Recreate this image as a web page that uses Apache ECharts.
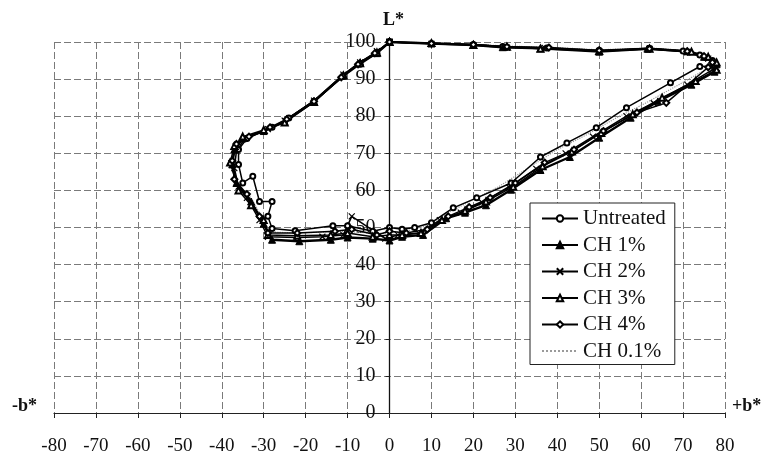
<!DOCTYPE html>
<html>
<head>
<meta charset="utf-8">
<script src="https://cdn.jsdelivr.net/npm/echarts@6/dist/echarts.min.js"></script>
<style>html,body{margin:0;padding:0;background:#fff}#c{width:766px;height:458px}</style>
</head>
<body>
<div id="c"></div>
<script>
// b* (x) ticks and L* (y) ticks
const xTicks = [-80,-70,-60,-50,-40,-30,-20,-10,0,10,20,30,40,50,60,70,80];
const yTicks = [0,10,20,30,40,50,60,70,80,90,100];
const seriesNames = ['Untreated','CH 1%','CH 2%','CH 3%','CH 4%','CH 0.1%'];

// [b*, L*] pairs, in drawing order
const untreated = [[0,100],[10,99.6],[20,99.3],[27,98.8],[37.5,98.4],[50,97.8],[62,98.3],[70,97.6],[74,96.5],[77,95],[77.5,93.5],[74,93.4],[67,89],[56.5,82.3],[49.3,76.9],[42.3,72.8],[36,69],[29,62],[20.8,58],[15.2,55.3],[10,51.3],[6,50],[3,49.5],[0,50],[-4,49],[-10,50.5],[-13.5,50.5],[-22.5,49.1],[-28,49.7],[-29,53],[-28,57],[-31,57],[-32.6,63.8],[-35,62],[-36,67],[-36,71],[-34,74],[-28,77],[-24,79.5],[-18,84],[-11,90.7],[-7,94],[-3,97],[0,100]];
const ch1 = [[0,100],[10,99.6],[20,99.2],[27,98.6],[36,98.3],[50,97.4],[61.5,98.2],[71,97.5],[75,96],[78,94],[77.5,92],[72,88.5],[64,84],[57.5,79.6],[50,74.2],[43,69],[36,65.5],[29,60.2],[23,56],[18,54],[13.5,52.5],[8,48],[3,47.5],[0,46.5],[-4,47],[-10,47.3],[-14,46.7],[-21.5,46.3],[-28,46.7],[-30,51],[-33,57],[-36.5,62],[-37.5,67],[-37,71],[-35,74],[-30,76],[-25,78.5],[-18,84],[-11,91],[-7,94.5],[-3,97],[0,100]];
const ch2 = [[0,100],[10,99.5],[20,99.1],[28,98.5],[37,98.4],[50,97.5],[62,98.1],[71,97.3],[76,95.5],[78,93],[77,92.5],[71,88.5],[63,83.5],[56.5,80],[48.5,74.5],[42,70],[35,65.8],[28.5,60.8],[22,56.8],[17,54],[12,52],[7,48.5],[2,48],[-1,47],[-9,53],[-11,48],[-16,47.5],[-22,47.3],[-29,47.5],[-31,52],[-34,58],[-36,61],[-37,66],[-36.5,70.5],[-34.5,74],[-29,76.5],[-25,78.8],[-18,84.2],[-11,91.2],[-7,94.5],[-3,97.5],[0,100]];
const ch3 = [[0,100],[10,99.7],[20,99.2],[28,98.7],[36,98.2],[50,97.6],[62,98.2],[72,97.4],[76,96],[78,94.5],[78,92.5],[73,89.5],[65,85],[58,80.5],[50.5,75.5],[43.5,70.5],[36.5,66.5],[29.5,61],[23,57],[18,54.5],[12.5,52],[7.5,48.5],[3,48],[0,48],[-4,47.5],[-10,48.5],[-14,48],[-22,47.8],[-29,48],[-30,52],[-33,56],[-36,60],[-38,67.5],[-37,72],[-35,74.5],[-30,76.3],[-25,78.3],[-18,83.8],[-11,91],[-7,94.3],[-3,97.2],[0,100]];
const ch4 = [[0,100],[10,99.6],[20,99.3],[28,98.7],[38,98.5],[50,97.7],[62,98.2],[71,97.5],[75,96.2],[77,94.5],[76,93.2],[66,83.6],[59,81],[51,76],[44,71],[37,67.5],[30,62],[24,58],[19,55.5],[14,53],[9,49.5],[4,48.5],[0,49],[-3,48],[-9,49.5],[-13,49],[-22,48.5],[-29,48.5],[-31,53],[-34,59],[-37,63],[-37.5,68],[-36.5,72.5],[-33.5,74.5],[-28.5,77],[-24.5,79.2],[-18,84],[-11.5,90.5],[-7.5,94],[-3.5,97],[0,100]];
const ch01 = [[0,100],[10,99.8],[20,99.4],[28,98.9],[38,98.6],[50,97.9],[62,98.4],[71,97.7],[75,96.5],[77.5,94.5],[76,93],[69,88.5],[61,83.5],[54,79.5],[47,75],[40,71],[33,66],[26,61],[20,57.5],[14,54],[9,50.5],[4,49],[0,48.5],[-5,48.5],[-10,49],[-15,48.8],[-22,48.5],[-28.5,48.8],[-30.5,53],[-33,58],[-36,61],[-37,66],[-36.5,71],[-34,74],[-29,76.5],[-25,79],[-18,84],[-11,91],[-7,94.3],[-3,97.2],[0,100]];

const FONT = 'Liberation Serif';
const crossPath = 'path://M0,0L10,10M10,0L0,10';

function mkSeries(name, data, opt) {
  return Object.assign({
    name: name,
    type: 'line',
    data: data,
    symbolSize: 5,
    showSymbol: true,
    itemStyle: {color: '#000', borderColor: '#000', borderWidth: 1},
    lineStyle: {color: '#000', width: 1.5},
    z: 3
  }, opt);
}

const ch1Data = ch1.map((p, i) => i === 0 ? {value: p, symbol: 'rect', symbolSize: 6} : p);

const GRID_LEFT = 54, GRID_W = 671;

const chart = echarts.init(document.getElementById('c'), null, {renderer: 'canvas'});
chart.setOption({
  animation: false,
  backgroundColor: '#fff',
  textStyle: {fontFamily: FONT},
  grid: {left: GRID_LEFT, width: GRID_W, top: 42, bottom: 45, containLabel: false},
  xAxis: {
    type: 'value', min: -80, max: 80, interval: 10,
    axisLine: {show: true, onZero: false, lineStyle: {color: '#222', width: 1.2}},
    axisTick: {show: true, length: 5, lineStyle: {color: '#222'}},
    axisLabel: {color: '#111', fontFamily: FONT, fontSize: 19, margin: 24,
      formatter: v => xTicks.includes(v) ? String(v) : ''},
    splitLine: {show: true, lineStyle: {color: '#7a7a7a', width: 1, type: [7, 3]}}
  },
  yAxis: {
    type: 'value', min: 0, max: 100, interval: 10,
    position: 'left',
    offset: -(GRID_W / 2),
    axisLine: {show: true, onZero: false, lineStyle: {color: '#111', width: 1.3}},
    axisTick: {show: true, length: 4, lineStyle: {color: '#222'}},
    axisLabel: {color: '#111', fontFamily: FONT, fontSize: 20, margin: 14,
      formatter: v => yTicks.includes(v) ? String(v) : ''},
    splitLine: {show: true, lineStyle: {color: '#7a7a7a', width: 1, type: [7, 3]}}
  },
  legend: {
    orient: 'vertical',
    left: 530, top: 203,
    data: seriesNames.map(n => n === 'CH 0.1%' ? {name: n, itemStyle: {opacity: 0}} : n),
    backgroundColor: '#fff',
    borderColor: '#222', borderWidth: 1,
    padding: [5, 9, 3, 11],
    itemWidth: 36, itemHeight: 8, itemGap: 5.5,
    textStyle: {fontFamily: FONT, fontSize: 21, color: '#111', lineHeight: 20},
    z: 10
  },
  graphic: [
    {type: 'text', left: 383, top: 11, style: {text: 'L*', font: 'bold 18px "Liberation Serif"', fill: '#111'}},
    {type: 'text', left: 12, top: 397, style: {text: '-b*', font: 'bold 18px "Liberation Serif"', fill: '#111'}},
    {type: 'text', left: 732, top: 397, style: {text: '+b*', font: 'bold 18px "Liberation Serif"', fill: '#111'}}
  ],
  series: [
    mkSeries('CH 0.1%', ch01, {symbol: 'none', lineStyle: {color: '#9a9a9a', width: 1.2, type: 'dotted'}, itemStyle: {color: '#9a9a9a'}, z: 2}),
    mkSeries('Untreated', untreated, {symbol: 'emptyCircle', symbolSize: 5}),
    mkSeries('CH 1%', ch1Data, {symbol: 'triangle', symbolSize: 7, lineStyle: {color: '#000', width: 2.4}}),
    mkSeries('CH 2%', ch2, {symbol: crossPath, symbolSize: 6, itemStyle: {color: 'none', borderColor: '#000', borderWidth: 1.2}}),
    mkSeries('CH 3%', ch3, {symbol: 'emptyTriangle', symbolSize: 6}),
    mkSeries('CH 4%', ch4, {symbol: 'emptyDiamond', symbolSize: 6})
  ]
});
</script>
</body>
</html>
